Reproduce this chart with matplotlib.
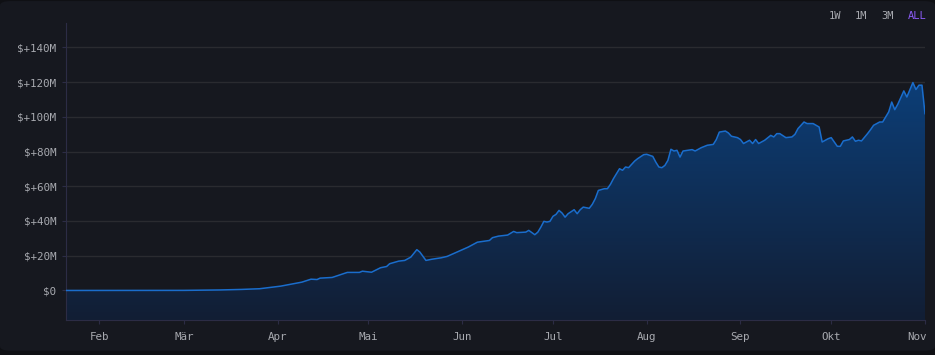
from matplotlib import pyplot as plt
from matplotlib import dates as mdates
from matplotlib.colors import LinearSegmentedColormap
from matplotlib.patches import FancyBboxPatch
from matplotlib.transforms import ScaledTranslation
import numpy
import pandas as pd

# portfolio value over time (millions of $)
dates = ['2023-01-21', '2023-02-15', '2023-03-01', '2023-03-13', '2023-03-20', '2023-03-26',
         '2023-04-02', '2023-04-09', '2023-04-12', '2023-04-14', '2023-04-15', '2023-04-19',
         '2023-04-24', '2023-04-28', '2023-04-29', '2023-05-02', '2023-05-05', '2023-05-07',
         '2023-05-08', '2023-05-11', '2023-05-13', '2023-05-15', '2023-05-17', '2023-05-18',
         '2023-05-20', '2023-05-22', '2023-05-25', '2023-05-27', '2023-05-31', '2023-06-03',
         '2023-06-06', '2023-06-10', '2023-06-11', '2023-06-13', '2023-06-16', '2023-06-18',
         '2023-06-19', '2023-06-22', '2023-06-23', '2023-06-25', '2023-06-26', '2023-06-27',
         '2023-06-28', '2023-06-29', '2023-06-30', '2023-07-01', '2023-07-02', '2023-07-03',
         '2023-07-04', '2023-07-05', '2023-07-06', '2023-07-08', '2023-07-09', '2023-07-10',
         '2023-07-11', '2023-07-13', '2023-07-14', '2023-07-15', '2023-07-16', '2023-07-18',
         '2023-07-19', '2023-07-20', '2023-07-21', '2023-07-22', '2023-07-23', '2023-07-24',
         '2023-07-25', '2023-07-26', '2023-07-28', '2023-07-29', '2023-07-31', '2023-08-01',
         '2023-08-03', '2023-08-04', '2023-08-05', '2023-08-06', '2023-08-07', '2023-08-08',
         '2023-08-09', '2023-08-10', '2023-08-11', '2023-08-12', '2023-08-13', '2023-08-16',
         '2023-08-17', '2023-08-19', '2023-08-21', '2023-08-23', '2023-08-24', '2023-08-25',
         '2023-08-27', '2023-08-28', '2023-08-29', '2023-08-31', '2023-09-01', '2023-09-02',
         '2023-09-04', '2023-09-05', '2023-09-06', '2023-09-07', '2023-09-09', '2023-09-11',
         '2023-09-12', '2023-09-13', '2023-09-14', '2023-09-16', '2023-09-18', '2023-09-19',
         '2023-09-20', '2023-09-21', '2023-09-22', '2023-09-23', '2023-09-25', '2023-09-27',
         '2023-09-28', '2023-09-30', '2023-10-01', '2023-10-02', '2023-10-03', '2023-10-04',
         '2023-10-05', '2023-10-07', '2023-10-08', '2023-10-09', '2023-10-10', '2023-10-11',
         '2023-10-13', '2023-10-14', '2023-10-15', '2023-10-17', '2023-10-18', '2023-10-20',
         '2023-10-21', '2023-10-22', '2023-10-23', '2023-10-25', '2023-10-26', '2023-10-28',
         '2023-10-29', '2023-10-30', '2023-10-31', '2023-11-01']
values = [0.0, 0.0, 0.05, 0.3, 0.6, 1.0,
          2.5, 4.8, 6.5, 6.3, 7.1, 7.5,
          10.4, 10.4, 11.1, 10.5, 13.1, 13.8,
          15.4, 16.9, 17.3, 19.2, 23.5, 22.1,
          17.3, 18.0, 18.8, 19.6, 22.7, 25.0,
          27.8, 28.8, 30.4, 31.3, 31.9, 34.0,
          33.3, 33.6, 34.6, 32.1, 33.6, 36.5,
          39.8, 39.4, 39.8, 42.7, 43.8, 46.1,
          44.6, 42.2, 44.2, 46.5, 44.2, 46.5,
          48.0, 47.3, 49.6, 52.9, 57.6, 58.6,
          58.6, 61.1, 64.4, 67.3, 70.1, 69.2,
          71.1, 70.7, 74.5, 75.9, 78.2, 78.4,
          77.2, 73.9, 71.1, 70.7, 72.0, 74.9,
          81.3, 80.3, 80.7, 76.8, 80.3, 81.1,
          80.3, 82.2, 83.6, 84.1, 86.9, 91.2,
          91.8, 90.7, 88.8, 88.0, 86.9, 84.6,
          86.5, 84.6, 86.9, 84.6, 86.5, 89.3,
          88.4, 90.3, 90.3, 88.0, 88.4, 89.9,
          93.2, 95.1, 97.0, 96.1, 96.1, 94.1,
          85.5, 87.4, 88.0, 85.5, 83.0, 83.0,
          86.1, 86.9, 88.4, 85.9, 86.5, 86.1,
          90.3, 92.6, 95.1, 97.0, 97.0, 102.8,
          108.5, 104.1, 107.2, 114.9, 111.4, 119.7,
          115.7, 118.2, 118.2, 101.8]

month_ticks = ['2023-02-01', '2023-03-01', '2023-04-01', '2023-05-01', '2023-06-01',
               '2023-07-01', '2023-08-01', '2023-09-01', '2023-10-01', '2023-11-01']
month_labels = ['Feb', 'Mär', 'Apr', 'Mai', 'Jun', 'Jul', 'Aug', 'Sep', 'Okt', 'Nov']
y_ticks = [0, 20, 40, 60, 80, 100, 120, 140]
y_labels = ['$0'] + [f'$+{v}M' for v in y_ticks[1:]]
ranges = ['1W', '1M', '3M', 'ALL']

bg = '#16181f'
text_col = '#a8aab0'
line_col = '#1a6dcc'
spine_col = '#2c2c45'
grid_col = '#2a2b30'
mono = ['DejaVu Sans Mono']

x = mdates.date2num(pd.to_datetime(dates))
y = numpy.array(values)
ymin, ymax = -17, 154

fig = plt.figure(figsize=(9.35, 3.55), dpi=100)
fig.patch.set_facecolor('#0f1014')
fig.patches.append(FancyBboxPatch((0.0, 0.012), 1.0, 0.985, boxstyle='round,pad=0,rounding_size=0.012',
                                  transform=fig.transFigure, facecolor=bg, edgecolor='none', zorder=-10))

ax = fig.add_axes([66 / 935, 35 / 355, 859 / 935, 297 / 355])
ax.set_facecolor(bg)
ax.set_xlim(x[0], x[-1])
ax.set_ylim(ymin, ymax)

# gradient fill below the line
poly = ax.fill_between(x, y, ymin, color='none', lw=0)
cmap = LinearSegmentedColormap.from_list('fill', ['#121e34', '#0c3e77'])
grad = numpy.linspace(0, 1, 256).reshape(-1, 1)
img = ax.imshow(grad, cmap=cmap, origin='lower', aspect='auto',
                extent=[x[0], x[-1], ymin, y.max()], zorder=2)
img.set_clip_path(poly.get_paths()[0], transform=ax.transData)
ax.plot(x, y, color=line_col, lw=1.1, zorder=3)

ax.set_yticks(y_ticks)
ax.set_yticklabels(y_labels)
ax.set_xticks(mdates.date2num(pd.to_datetime(month_ticks)))
ax.set_xticklabels(month_labels)
ax.grid(axis='y', color=grid_col, lw=1, zorder=1)
ax.tick_params(axis='both', colors=spine_col, labelcolor=text_col, labelsize=7.8, length=3)
ax.tick_params(axis='x', pad=6)
ax.tick_params(axis='y', pad=4)
for lab in ax.get_xticklabels() + ax.get_yticklabels():
  lab.set_family(mono)
# keep last month label inside the panel
last = ax.get_xticklabels()[-1]
last.set_transform(last.get_transform() + ScaledTranslation(-8 / 100, 0, fig.dpi_scale_trans))
for side in ['top', 'right']:
  ax.spines[side].set_visible(False)
for side in ['left', 'bottom']:
  ax.spines[side].set_color(spine_col)

xs = [835, 861, 888, 917]
for label, xp in zip(ranges, xs):
  fig.text(xp / 935, 1 - 16 / 355, label, ha='center', va='center', fontsize=7.5,
           family=mono, color='#8b5cf6' if label == 'ALL' else text_col)

fig.savefig('out.png', facecolor=fig.get_facecolor())
